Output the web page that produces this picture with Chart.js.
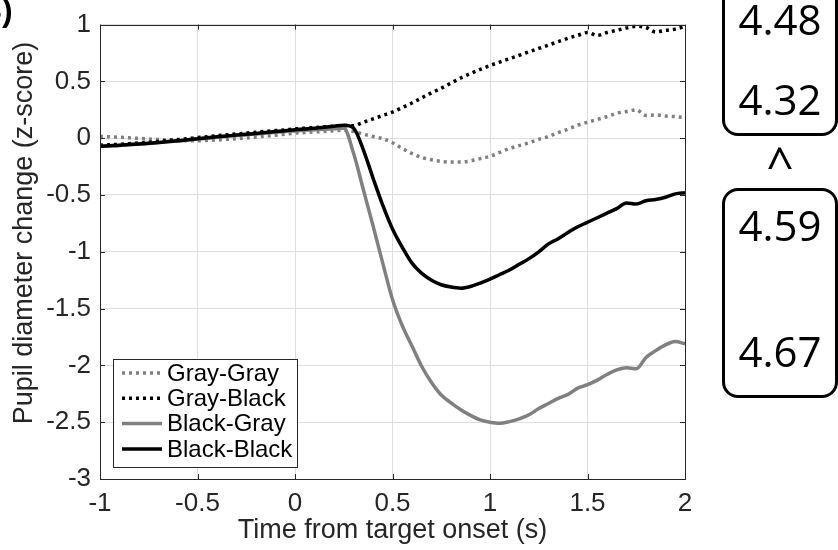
<!DOCTYPE html>
<html>
<head>
<meta charset="utf-8">
<script src="https://cdn.jsdelivr.net/npm/chart.js@4.4.0/dist/chart.umd.min.js"></script>
<style>
  body { margin: 0; background: #fff; }
  #wrap { position: relative; width: 838px; height: 550px; overflow: hidden; background: #fff; }
  #chart { position: absolute; left: 0; top: 0; }
  .box { position: absolute; left: 722px; width: 116px; border: 3px solid #000; border-radius: 16px; box-sizing: border-box; }
  .num { position: absolute; left: 722px; width: 116px; text-align: center; font-family: 'Open Sans', sans-serif; font-size: 42px; line-height: 1; color: #000; }
  #panel { position: absolute; left: -21px; top: -6px; font-family: 'Liberation Sans', sans-serif; font-weight: bold; font-size: 32px; line-height: 1; }
</style>
</head>
<body>
<div id="wrap">
  <canvas id="chart" width="838" height="550"></canvas>
  <div id="panel">B)</div>
  <div class="box" style="top:-40px; height:176px;"></div>
  <div class="box" style="top:188px; height:210px;"></div>
  <div class="num" style="top:-2px;">4.48</div>
  <div class="num" style="top:78px;">4.32</div>
  <div class="num" style="top:140px; font-size:48px;">^</div>
  <div class="num" style="top:204px;">4.59</div>
  <div class="num" style="top:330px;">4.67</div>
</div>
<script>
// time axis (s)
const times = [
  -1.00, -0.95, -0.90, -0.85, -0.80, -0.75, -0.70, -0.65, -0.60, -0.55,
  -0.50, -0.45, -0.40, -0.35, -0.30, -0.25, -0.20, -0.15, -0.10, -0.05,
  0.00, 0.05, 0.10, 0.15, 0.20, 0.25, 0.30, 0.35, 0.40, 0.45,
  0.50, 0.55, 0.60, 0.65, 0.70, 0.75, 0.80, 0.85, 0.90, 0.95,
  1.00, 1.05, 1.10, 1.15, 1.20, 1.25, 1.30, 1.35, 1.40, 1.45,
  1.50, 1.55, 1.60, 1.65, 1.70, 1.75, 1.80, 1.85, 1.90, 1.95, 2.00
];

// pupil diameter change (z-score) per condition
const grayGray = [
  0.017, 0.012, 0.008, 0.003, -0.002, -0.007, -0.012, -0.016, -0.020, -0.022,
  -0.022, -0.019, -0.015, -0.010, -0.005, 0.002, 0.010, 0.018, 0.025, 0.035,
  0.045, 0.050, 0.055, 0.060, 0.065, 0.070, 0.060, 0.035, 0.015, -0.005,
  -0.040, -0.090, -0.135, -0.170, -0.190, -0.205, -0.210, -0.210, -0.200, -0.180,
  -0.160, -0.125, -0.090, -0.065, -0.040, -0.010, 0.015, 0.050, 0.080, 0.115,
  0.140, 0.165, 0.190, 0.220, 0.235, 0.250, 0.200, 0.205, 0.195, 0.190, 0.180
];
const grayBlack = [
  -0.062, -0.058, -0.054, -0.048, -0.042, -0.035, -0.028, -0.020, -0.012, -0.004,
  0.005, 0.013, 0.022, 0.030, 0.038, 0.045, 0.052, 0.060, 0.067, 0.074,
  0.082, 0.088, 0.094, 0.100, 0.106, 0.112, 0.110, 0.140, 0.170, 0.200,
  0.230, 0.270, 0.310, 0.355, 0.400, 0.440, 0.485, 0.530, 0.570, 0.605,
  0.640, 0.670, 0.700, 0.730, 0.760, 0.790, 0.820, 0.850, 0.880, 0.905,
  0.930, 0.905, 0.930, 0.950, 0.970, 0.985, 0.975, 0.935, 0.950, 0.960, 0.985
];
const blackGray = [
  -0.072, -0.068, -0.064, -0.058, -0.052, -0.046, -0.039, -0.032, -0.024, -0.016,
  -0.008, 0.000, 0.008, 0.016, 0.024, 0.031, 0.038, 0.045, 0.052, 0.059,
  0.064, 0.069, 0.074, 0.079, 0.083, 0.088, -0.130, -0.450, -0.770, -1.100,
  -1.420, -1.650, -1.830, -2.010, -2.150, -2.260, -2.330, -2.390, -2.440, -2.480,
  -2.500, -2.510, -2.495, -2.470, -2.435, -2.380, -2.335, -2.290, -2.255, -2.200,
  -2.170, -2.130, -2.080, -2.040, -2.020, -2.030, -1.930, -1.870, -1.820, -1.790, -1.810
];
const blackBlack = [
  -0.070, -0.066, -0.062, -0.056, -0.050, -0.044, -0.037, -0.030, -0.022, -0.014,
  -0.005, 0.003, 0.012, 0.020, 0.028, 0.035, 0.042, 0.050, 0.058, 0.066,
  0.075, 0.081, 0.088, 0.096, 0.105, 0.115, 0.090, -0.100, -0.350, -0.590,
  -0.800, -0.960, -1.100, -1.190, -1.250, -1.290, -1.310, -1.320, -1.305, -1.275,
  -1.240, -1.200, -1.160, -1.110, -1.060, -1.000, -0.930, -0.885, -0.830, -0.780,
  -0.740, -0.700, -0.660, -0.620, -0.570, -0.580, -0.550, -0.540, -0.520, -0.490, -0.480
];

const seriesNames = ['Gray-Gray', 'Gray-Black', 'Black-Gray', 'Black-Black'];
const xTicks = [-1, -0.5, 0, 0.5, 1, 1.5, 2];
const yTicks = [1, 0.5, 0, -0.5, -1, -1.5, -2, -2.5, -3];
const xTitle = 'Time from target onset (s)';
const yTitle = 'Pupil diameter change (z-score)';

const FONT = "'Liberation Sans', Arial, sans-serif";
const AXIS_COLOR = '#262626';
const GRAY = '#808080';

function toPoints(values) {
  return times.map((t, i) => ({ x: t, y: values[i] }));
}

// box around the axes with matlab style inward ticks
const framePlugin = {
  id: 'frame',
  afterDatasetsDraw(chart) {
    const { ctx, chartArea: a, scales } = chart;
    const len = 5;
    ctx.save();
    ctx.strokeStyle = AXIS_COLOR;
    ctx.lineWidth = 1;
    ctx.beginPath();
    xTicks.forEach(v => {
      const px = Math.round(scales.x.getPixelForValue(v)) + 0.5;
      ctx.moveTo(px, a.bottom); ctx.lineTo(px, a.bottom - len);
      ctx.moveTo(px, a.top); ctx.lineTo(px, a.top + len);
    });
    yTicks.forEach(v => {
      const py = Math.round(scales.y.getPixelForValue(v)) + 0.5;
      ctx.moveTo(a.left, py); ctx.lineTo(a.left + len, py);
      ctx.moveTo(a.right, py); ctx.lineTo(a.right - len, py);
    });
    ctx.stroke();
    ctx.strokeRect(Math.round(a.left) + 0.5, Math.round(a.top) + 0.5,
      Math.round(a.right - a.left), Math.round(a.bottom - a.top));
    ctx.restore();
  }
};

// legend box inside the lower left corner of the axes
const legendPlugin = {
  id: 'innerLegend',
  afterDraw(chart) {
    const { ctx, chartArea: a } = chart;
    const left = a.left + 13, bottom = a.bottom - 12;
    const w = 184, h = 108, top = bottom - h;
    ctx.save();
    ctx.fillStyle = '#fff';
    ctx.fillRect(left, top, w, h);
    ctx.strokeStyle = AXIS_COLOR;
    ctx.lineWidth = 1;
    ctx.strokeRect(left + 0.5, top + 0.5, w, h);
    ctx.font = '24px ' + FONT;
    ctx.textBaseline = 'middle';
    chart.data.datasets.forEach((ds, i) => {
      const y = top + 14 + i * 25.3;
      ctx.beginPath();
      ctx.strokeStyle = ds.borderColor;
      ctx.lineWidth = ds.borderWidth;
      ctx.setLineDash(ds.borderDash || []);
      ctx.moveTo(left + 9, y);
      ctx.lineTo(left + 49, y);
      ctx.stroke();
      ctx.setLineDash([]);
      ctx.fillStyle = '#000';
      ctx.fillText(ds.label, left + 54, y + 1);
    });
    ctx.restore();
  }
};

// y axis label, matlab puts it a bit above the axes middle
const yTitlePlugin = {
  id: 'yTitle',
  afterDraw(chart) {
    const { ctx } = chart;
    ctx.save();
    ctx.translate(25, 233);
    ctx.rotate(-Math.PI / 2);
    ctx.font = '27px ' + FONT;
    ctx.fillStyle = AXIS_COLOR;
    ctx.textAlign = 'center';
    ctx.textBaseline = 'middle';
    ctx.fillText(yTitle, 0, 0);
    ctx.restore();
  }
};

const colors = [GRAY, '#000', GRAY, '#000'];
const dashes = [[3, 4], [3, 4], [], []];
const allValues = [grayGray, grayBlack, blackGray, blackBlack];

const chart = new Chart(document.getElementById('chart'), {
  type: 'line',
  data: {
    datasets: seriesNames.map((name, i) => ({
      label: name,
      data: toPoints(allValues[i]),
      borderColor: colors[i],
      borderWidth: 3.5,
      borderDash: dashes[i],
      borderCapStyle: 'butt',
      pointRadius: 0,
      fill: false,
      cubicInterpolationMode: 'monotone',
      order: 3 - i
    }))
  },
  options: {
    responsive: false,
    animation: false,
    devicePixelRatio: 1,
    layout: { padding: { left: 0, right: 153, top: 20, bottom: 0 } },
    plugins: {
      legend: { display: false },
      tooltip: { enabled: false }
    },
    scales: {
      x: {
        type: 'linear',
        min: -1,
        max: 2,
        afterBuildTicks: s => { s.ticks = xTicks.map(v => ({ value: v })); },
        afterFit: s => { s.height = 71; },
        ticks: {
          callback: v => String(v),
          font: { family: FONT, size: 26 },
          color: AXIS_COLOR,
          padding: 9,
          maxRotation: 0,
          autoSkip: false
        },
        grid: { color: '#dedede', drawTicks: false },
        border: { display: false },
        title: {
          display: true,
          text: xTitle,
          font: { family: FONT, size: 27 },
          color: AXIS_COLOR,
          padding: { top: 0, bottom: 3 }
        }
      },
      y: {
        type: 'linear',
        min: -3,
        max: 1,
        afterBuildTicks: s => { s.ticks = yTicks.map(v => ({ value: v })); },
        afterFit: s => { s.width = 100; },
        ticks: {
          callback: v => String(v),
          font: { family: FONT, size: 26 },
          color: AXIS_COLOR,
          padding: 9,
          autoSkip: false
        },
        grid: { color: '#dedede', drawTicks: false },
        border: { display: false }
      }
    }
  },
  plugins: [framePlugin, legendPlugin, yTitlePlugin]
});
</script>
</body>
</html>
